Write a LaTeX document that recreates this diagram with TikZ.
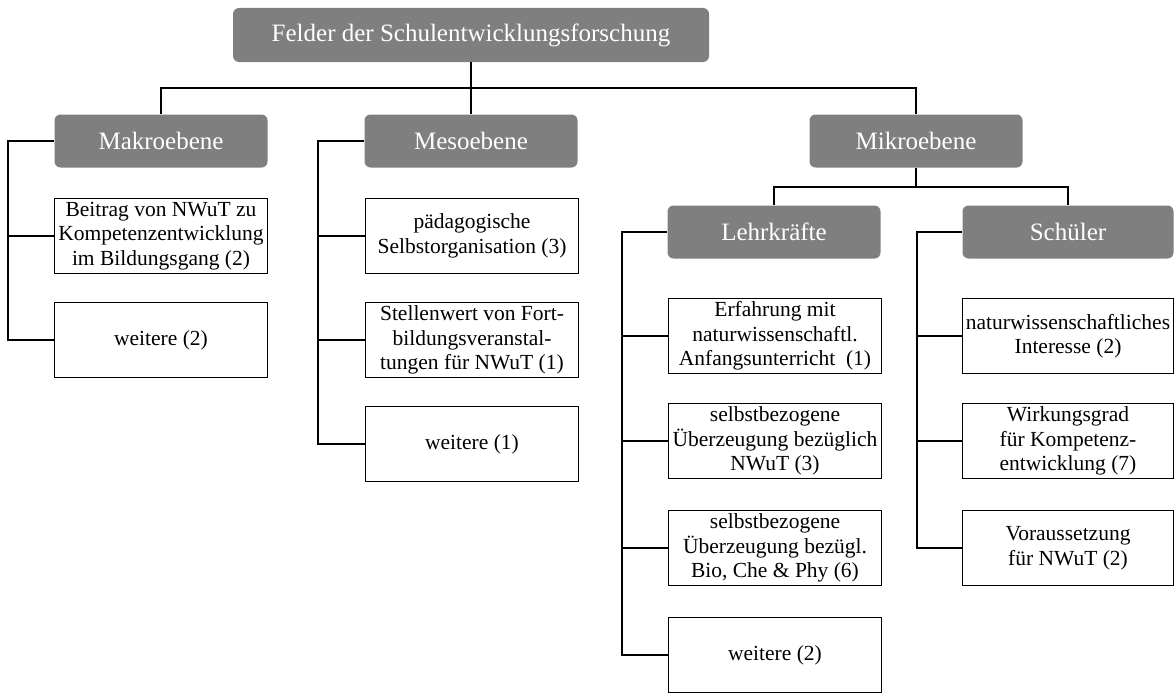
\documentclass[tikz,border=0pt]{standalone}
\usepackage{fontspec}
\setmainfont{Liberation Serif}
\begin{document}
\begin{tikzpicture}[x=1pt,y=-1pt,
  head/.style={fill=headgray,rounded corners=6pt,text=white,inner sep=0pt,
    minimum width=213pt,minimum height=53pt,font=\fontsize{25}{29}\selectfont},
  leaf/.style={draw=black,line width=1.4pt,fill=white,inner sep=0pt,align=center,
    minimum width=213pt,minimum height=75pt,font=\fontsize{21.5}{24.5}\selectfont},
  conn/.style={draw=black,line width=1.2pt}]
\definecolor{headgray}{HTML}{7F7F7F}
\useasboundingbox (0,0) rectangle (1174,693);
% headers
\node[head,minimum width=476pt,minimum height=54pt] (top) at (471,35) {Felder der Schulentwicklungsforschung};
\node[head] (makro) at (161,141) {Makroebene};
\node[head] (meso) at (471,141) {Mesoebene};
\node[head] (mikro) at (916,141) {Mikroebene};
\node[head] (lehr) at (774,232) {Lehrkräfte};
\node[head,minimum width=211pt] (schu) at (1068,232) {Schüler};
% Makro leaves
\node[leaf] (mk1) at (161,236) {Beitrag von NWuT zu\\Kompetenzentwicklung\\im Bildungsgang (2)};
\node[leaf] (mk2) at (161,340) {weitere (2)};
% Meso leaves
\node[leaf] (me1) at (472,236) {pädagogische\\Selbstorganisation (3)};
\node[leaf] (me2) at (472,340) {Stellenwert von Fort-\\bildungsveranstal-\\tungen für NWuT (1)};
\node[leaf] (me3) at (472,444) {weitere (1)};
% Lehrkraefte leaves
\node[leaf] (l1) at (775,336) {Erfahrung mit\\naturwissenschaftl.\\Anfangsunterricht~~(1)};
\node[leaf] (l2) at (775,441) {selbstbezogene\\Überzeugung bezüglich\\NWuT (3)};
\node[leaf] (l3) at (775,548) {selbstbezogene\\Überzeugung bezügl.\\Bio, Che \& Phy (6)};
\node[leaf] (l4) at (775,655) {weitere (2)};
% Schueler leaves
\node[leaf,minimum width=211pt] (s1) at (1068,336) {naturwissenschaftliches\\Interesse (2)};
\node[leaf,minimum width=211pt] (s2) at (1068,441) {Wirkungsgrad\\für Kompetenz-\\entwicklung (7)};
\node[leaf,minimum width=211pt] (s3) at (1068,548) {Voraussetzung\\für NWuT (2)};
% connectors top level
\coordinate (bar) at (471,88);
\draw[conn] (top.south) -- (meso.north);
\draw[conn] (makro.north) |- (bar) -| (mikro.north);
% Mikro split
\coordinate (mbar) at (916,187);
\draw[conn] (mikro.south) -- (mbar);
\draw[conn] (lehr.north) |- (mbar) -| (schu.north);
% Makro bracket
\coordinate (mkL) at (8,141);
\draw[conn] (makro.west) -- (mkL) |- (mk2.west);
\draw[conn] (mkL) |- (mk1.west);
% Meso bracket
\coordinate (meL) at (318,141);
\draw[conn] (meso.west) -- (meL) |- (me3.west);
\draw[conn] (meL) |- (me1.west);
\draw[conn] (meL) |- (me2.west);
% Lehrkraefte bracket
\coordinate (lL) at (622,232);
\draw[conn] (lehr.west) -- (lL) |- (l4.west);
\draw[conn] (lL) |- (l1.west);
\draw[conn] (lL) |- (l2.west);
\draw[conn] (lL) |- (l3.west);
% Schueler bracket
\coordinate (sL) at (917,232);
\draw[conn] (schu.west) -- (sL) |- (s3.west);
\draw[conn] (sL) |- (s1.west);
\draw[conn] (sL) |- (s2.west);
\end{tikzpicture}
\end{document}
